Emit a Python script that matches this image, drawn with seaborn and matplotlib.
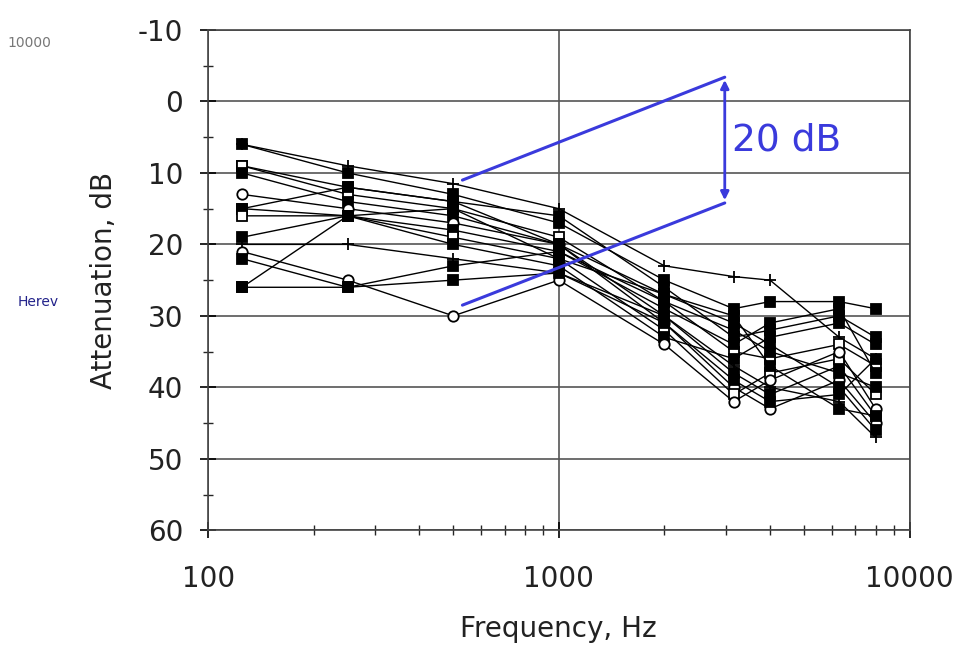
import numpy as np
import pandas as pd
import matplotlib
matplotlib.use("Agg")
import matplotlib.pyplot as plt
import seaborn as sns
from matplotlib.ticker import FixedLocator, NullFormatter

freqs = [125, 250, 500, 1000, 2000, 3150, 4000, 6300, 8000]

s01 = [6, 9, 11.5, 15, 23, 24.5, 25, 33, 36]
s02 = [6, 10, 13, 17, 25, 29, 28, 28, 29]
s03 = [9, 12, 14, 16, 26, 33, 32, 30, 33]
s04 = [9, 13, 15, 19, 28, 35, 36, 34, 37]
s05 = [10, 14, 16, 20, 30, 38, 41, 37, 44]
s06 = [13, 15, 17, 20, 31, 40, 43, 39, 45]
s07 = [15, 12, 14, 20, 27, 31, 34, 40, 46]
s08 = [15, 16, 18, 21, 29, 34, 31, 29, 38]
s09 = [16, 16, 19, 22, 32, 41, 38, 36, 41]
s10 = [19, 16, 20, 23, 33, 36, 33, 31, 34]
s11 = [20, 20, 22, 24, 30, 37, 40, 42, 47]
s12 = [21, 25, 30, 25, 34, 42, 39, 35, 43]
s13 = [22, 26, 23, 21, 28, 32, 35, 38, 40]
s14 = [26, 16, 15, 22, 27, 30, 37, 43, 44]
s15 = [26, 26, 25, 24, 31, 39, 42, 41, 36]

series = [s01, s02, s03, s04, s05, s06, s07, s08, s09, s10, s11, s12, s13, s14, s15]
series_markers = ['+', 's', 's', 's', 's', 'o', 's', 's', 's', 's', '+', 'o', 's', 's', 's']
series_filled = [True, True, True, False, True, False, True, True, False, True, True, False, True, True, True]

y_ticks = [-10, 0, 10, 20, 30, 40, 50, 60]
y_tick_labels = ["-10", "0", "10", "20", "30", "40", "50", "60"]
x_ticks = [100, 1000, 10000]
x_tick_labels = ["100", "1000", "10000"]

rows = []
for i, s in enumerate(series):
    for f, v in zip(freqs, s):
        rows.append({"series": i, "freq": f, "att": v})
df = pd.DataFrame(rows)

sns.set_style("white")
plt.rcParams['font.family'] = ['DejaVu Sans']

fig = plt.figure(figsize=(9.77, 6.53), dpi=100)
ax = fig.add_axes([0.213, 0.188, 0.718, 0.766])

for i in range(len(series)):
    sub = df[df["series"] == i]
    m = series_markers[i]
    filled = series_filled[i]
    sns.lineplot(data=sub, x="freq", y="att", ax=ax, color="black", lw=1.0,
                 marker=m, markersize=7.5 if m != '+' else 9,
                 markerfacecolor="black" if filled else "white",
                 markeredgecolor="black", markeredgewidth=1.3,
                 legend=False, zorder=3)

ax.set_xscale("log")
ax.set_xlim(100, 10000)
ax.set_ylim(60, -10)
ax.set_xticks(x_ticks)
ax.set_xticklabels(x_tick_labels)
ax.xaxis.set_minor_locator(FixedLocator([b * m for b in (100, 1000) for m in range(2, 10)]))
ax.xaxis.set_minor_formatter(NullFormatter())
ax.set_yticks(y_ticks)
ax.set_yticklabels(y_tick_labels)
ax.yaxis.set_minor_locator(FixedLocator([-5, 5, 15, 25, 35, 45, 55]))

ax.tick_params(axis="both", which="major", direction="inout", length=12, width=1.2,
               labelsize=20, colors="black", bottom=True, left=True)
ax.tick_params(axis="x", which="major", pad=19, labelcolor="#222222")
ax.tick_params(axis="y", which="major", pad=12, labelcolor="#222222")
ax.tick_params(axis="both", which="minor", direction="inout", length=7, width=1.0,
               bottom=True, left=True)

ax.grid(True, which="major", color="#555555", lw=1.2)
ax.grid(False, which="minor")
for sp in ax.spines.values():
    sp.set_visible(True)
    sp.set_color("#444444")
    sp.set_linewidth(1.2)

ax.set_xlabel("Frequency, Hz", fontsize=20, labelpad=16, color="#222222")
ax.set_ylabel("Attenuation, dB", fontsize=20, labelpad=14, color="#222222")

blue = "#3a3adc"
ax.plot([531, 2972], [11.0, -3.4], color=blue, lw=2.2, zorder=5)
ax.plot([531, 2972], [28.5, 14.2], color=blue, lw=2.2, zorder=5)
ax.annotate("", xy=(2972, -3.4), xytext=(2972, 14.2),
            arrowprops=dict(arrowstyle="<|-|>", color=blue, lw=2.0, mutation_scale=12),
            zorder=6)
ax.text(3120, 5.5, "20 dB", color=blue, fontsize=27, va="center", ha="left", zorder=6)

fig.text(0.008, 0.928, "10000", fontsize=10, color="#777777")
fig.text(0.018, 0.532, "Herev", fontsize=10, color="#22228a")

fig.savefig("out.png", dpi=100)
